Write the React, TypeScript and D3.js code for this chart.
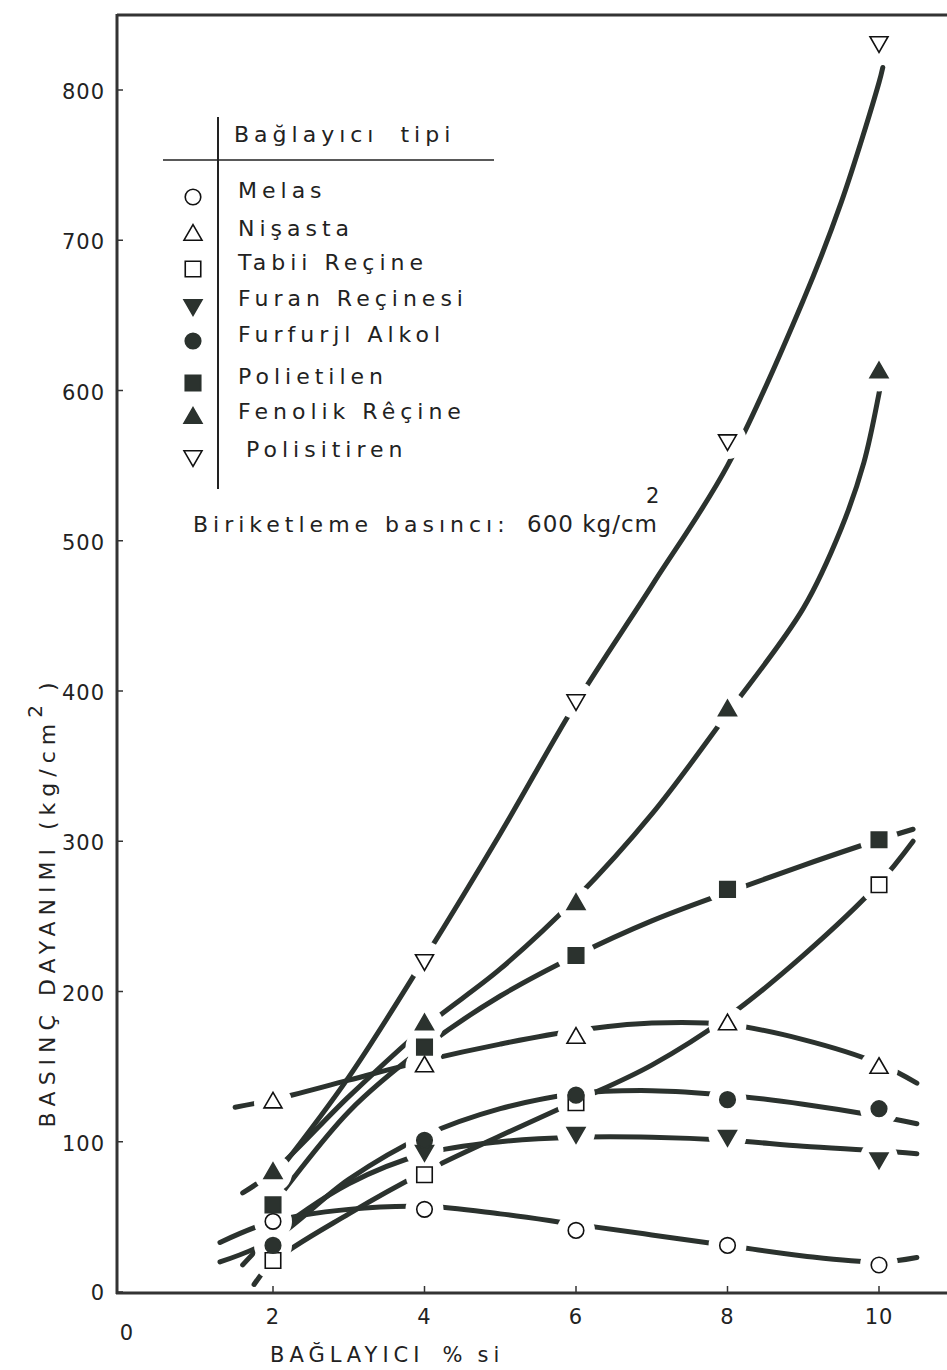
import React from 'react';
import * as d3 from 'd3';

// ---- data ----
const xTicks = [0, 2, 4, 6, 8, 10];
const yTicks = [0, 100, 200, 300, 400, 500, 600, 700, 800];
const markerX = [2, 4, 6, 8, 10];

// measured points (null = not visible)
const melas = [47, 55, 41, 31, 18];
const nisasta = [126, 150, 169, 178, 149];
const tabii = [21, 78, 126, null, 271];
const furan = [null, 94, 106, 104, 89];
const furfuril = [31, 101, 131, 128, 122];
const polietilen = [58, 163, 224, 268, 301];
const fenolik = [79, 178, 258, 387, 612];
const polisitiren = [null, 221, 394, 567, 832];

// hand-drawn fitted curves [x, value]
const melasFit = [[1.3, 33], [2, 47], [3, 55], [4, 57], [5, 52], [6, 45], [7, 38], [8, 31], [9, 24], [10, 20], [10.5, 23]];
const nisastaFit = [[1.5, 123], [2, 128], [3, 141], [4, 154], [5, 165], [6, 174], [7, 179], [8, 178], [9, 168], [10, 152], [10.5, 139]];
const tabiiFit = [[1.75, 5], [2, 20], [3, 52], [4, 80], [5, 104], [6, 127], [7, 151], [8, 183], [9, 224], [10, 272], [10.45, 300]];
const furanFit = [[1.6, 18], [2, 38], [3, 72], [4, 92], [5, 100], [6, 103], [7, 103], [8, 101], [9, 97], [10, 94], [10.5, 92]];
const furfurilFit = [[1.3, 20], [2, 35], [3, 75], [4, 104], [5, 122], [6, 132], [7, 134], [8, 131], [9, 125], [10, 117], [10.5, 112]];
const polietilenFit = [[2, 58], [3, 120], [4, 163], [5, 197], [6, 224], [7, 247], [8, 266], [9, 284], [10, 301], [10.45, 308]];
const fenolikFit = [[1.6, 66], [2, 80], [3, 130], [4, 176], [5, 215], [6, 262], [7, 318], [8, 385], [9, 455], [9.5, 508], [9.8, 552], [10, 598], [10.05, 612]];
const polisitirenFit = [[2.1, 82], [3, 143], [4, 222], [5, 305], [6, 392], [7, 470], [8, 550], [9, 660], [9.5, 725], [10, 805], [10.05, 815]];

const legendNames = ['Melas', 'Nişasta', 'Tabii Reçine', 'Furan Reçinesi', 'Furfurjl Alkol', 'Polietilen', 'Fenolik Rêçine', 'Polisitiren'];
const legendShapes = ['circle', 'triUp', 'square', 'triDown', 'circleFill', 'squareFill', 'triUpFill', 'triDownOpen'];

const series = [
  { shape: 'circle', pts: melas, fit: melasFit },
  { shape: 'triUp', pts: nisasta, fit: nisastaFit },
  { shape: 'square', pts: tabii, fit: tabiiFit },
  { shape: 'triDown', pts: furan, fit: furanFit },
  { shape: 'circleFill', pts: furfuril, fit: furfurilFit },
  { shape: 'squareFill', pts: polietilen, fit: polietilenFit },
  { shape: 'triUpFill', pts: fenolik, fit: fenolikFit },
  { shape: 'triDownOpen', pts: polisitiren, fit: polisitirenFit },
];

const INK = '#2b322e';
const FONT = '"DejaVu Sans", sans-serif';

const x = d3.scaleLinear().domain([0, 10]).range([121.5, 879]);
const y = d3.scaleLinear().domain([0, 800]).range([1292, 90]);

const line = d3.line<number[]>()
  .x(d => x(d[0]))
  .y(d => y(d[1]))
  .curve(d3.curveCatmullRom.alpha(0.5));

function Marker({ shape, cx, cy }: { shape: string; cx: number; cy: number }) {
  const filled = shape.endsWith('Fill') || shape === 'triDown';
  const fill = filled ? INK : '#fff';
  const stroke = filled ? INK : '#111';
  let type = d3.symbolCircle;
  let size = 190;
  let rot = 0;
  if (shape.startsWith('square')) { type = d3.symbolSquare; size = 240; }
  if (shape.startsWith('triUp')) { type = d3.symbolTriangle; size = 140; }
  if (shape.startsWith('triDown')) { type = d3.symbolTriangle; size = 140; rot = 180; }
  const d = d3.symbol().type(type).size(size)() as string;
  return (
    <path d={d} transform={`translate(${cx},${cy}) rotate(${rot})`}
      fill={fill} stroke={stroke} strokeWidth={1.6} strokeLinejoin="miter" />
  );
}

export default function App() {
  const markers: { shape: string; cx: number; cy: number }[] = [];
  series.forEach(s => {
    s.pts.forEach((v, i) => {
      if (v != null) markers.push({ shape: s.shape, cx: x(markerX[i]), cy: y(v) });
    });
  });

  const legendRows = [190, 228, 262, 298, 334, 376, 411, 449];

  return (
    <svg width={947} height={1370} style={{ position: 'absolute', left: 0, top: 0, background: '#fff' }}>
      <defs>
        <mask id="gaps" maskUnits="userSpaceOnUse" x={0} y={0} width={947} height={1370}>
          <rect x={0} y={0} width={947} height={1370} fill="#fff" />
          {markers.map((m, i) => <circle key={i} cx={m.cx} cy={m.cy} r={19} fill="#000" />)}
        </mask>
      </defs>

      {/* frame */}
      <g stroke="#333" strokeWidth={3} fill="none">
        <line x1={117} y1={15} x2={947} y2={15} />
        <line x1={117} y1={14} x2={117} y2={1294} />
        <line x1={116} y1={1293} x2={947} y2={1293} />
      </g>

      {/* y ticks */}
      {yTicks.map(t => (
        <g key={t}>
          <line x1={117} x2={123} y1={y(t)} y2={y(t)} stroke="#333" strokeWidth={1.5} />
          <text x={105} y={y(t) + (t === 0 ? 8 : 9)} textAnchor="end" fontFamily={FONT} fontSize={21}
            letterSpacing={1} fill="#222">{t}</text>
        </g>
      ))}

      {/* x ticks */}
      {xTicks.map(t => (
        <g key={t}>
          {t > 0 && <line x1={x(t)} x2={x(t)} y1={1293} y2={1286} stroke="#333" strokeWidth={1.5} />}
          <text x={t === 0 ? 127 : x(t)} y={t === 0 ? 1340 : 1324} textAnchor="middle" fontFamily={FONT}
            fontSize={21} letterSpacing={1} fill="#222">{t}</text>
        </g>
      ))}

      {/* axis titles */}
      <text x={270} y={1362} fontFamily={FONT} fontSize={21} letterSpacing={5} fill="#222">
        BAĞLAYICI<tspan dx={18}>%</tspan><tspan dx={10}>si</tspan>
      </text>
      <text transform="translate(55,902) rotate(-90)" textAnchor="middle" fontFamily={FONT} fontSize={22}
        letterSpacing={6} fill="#222">
        BASINÇ DAYANIMI (kg/cm<tspan dy={-13} fontSize={20}>2</tspan><tspan dy={13} dx={8}>)</tspan>
      </text>

      {/* fitted curves */}
      <g mask="url(#gaps)">
        {series.map((s, i) => (
          <path key={i} d={line(s.fit as number[][]) as string} fill="none" stroke={INK}
            strokeWidth={5} strokeLinecap="round" />
        ))}
      </g>

      {/* data markers */}
      {markers.map((m, i) => <Marker key={i} {...m} />)}

      {/* legend */}
      <line x1={218} y1={117} x2={218} y2={489} stroke="#222" strokeWidth={2} />
      <line x1={163} y1={160} x2={494} y2={160} stroke="#222" strokeWidth={1.5} />
      <text x={234} y={142} fontFamily={FONT} fontSize={22} letterSpacing={5} fill="#222">
        Bağlayıcı<tspan dx={22}>tipi</tspan>
      </text>
      {legendNames.map((n, i) => (
        <g key={n}>
          <Marker shape={legendShapes[i]} cx={193} cy={legendRows[i] + 7} />
          <text x={i === 7 ? 246 : 238} y={legendRows[i] + 8} fontFamily={FONT} fontSize={22}
            letterSpacing={5} fill="#222">{n}</text>
        </g>
      ))}

      {/* note */}
      <text y={532} fontFamily={FONT} fontSize={22} fill="#222">
        <tspan x={193} letterSpacing={5}>Biriketleme</tspan>
        <tspan x={385} letterSpacing={5}>basıncı:</tspan>
        <tspan x={527} letterSpacing={1} fontSize={23}>600 kg/cm</tspan>
        <tspan x={646} y={503} fontSize={21}>2</tspan>
      </text>
    </svg>
  );
}
